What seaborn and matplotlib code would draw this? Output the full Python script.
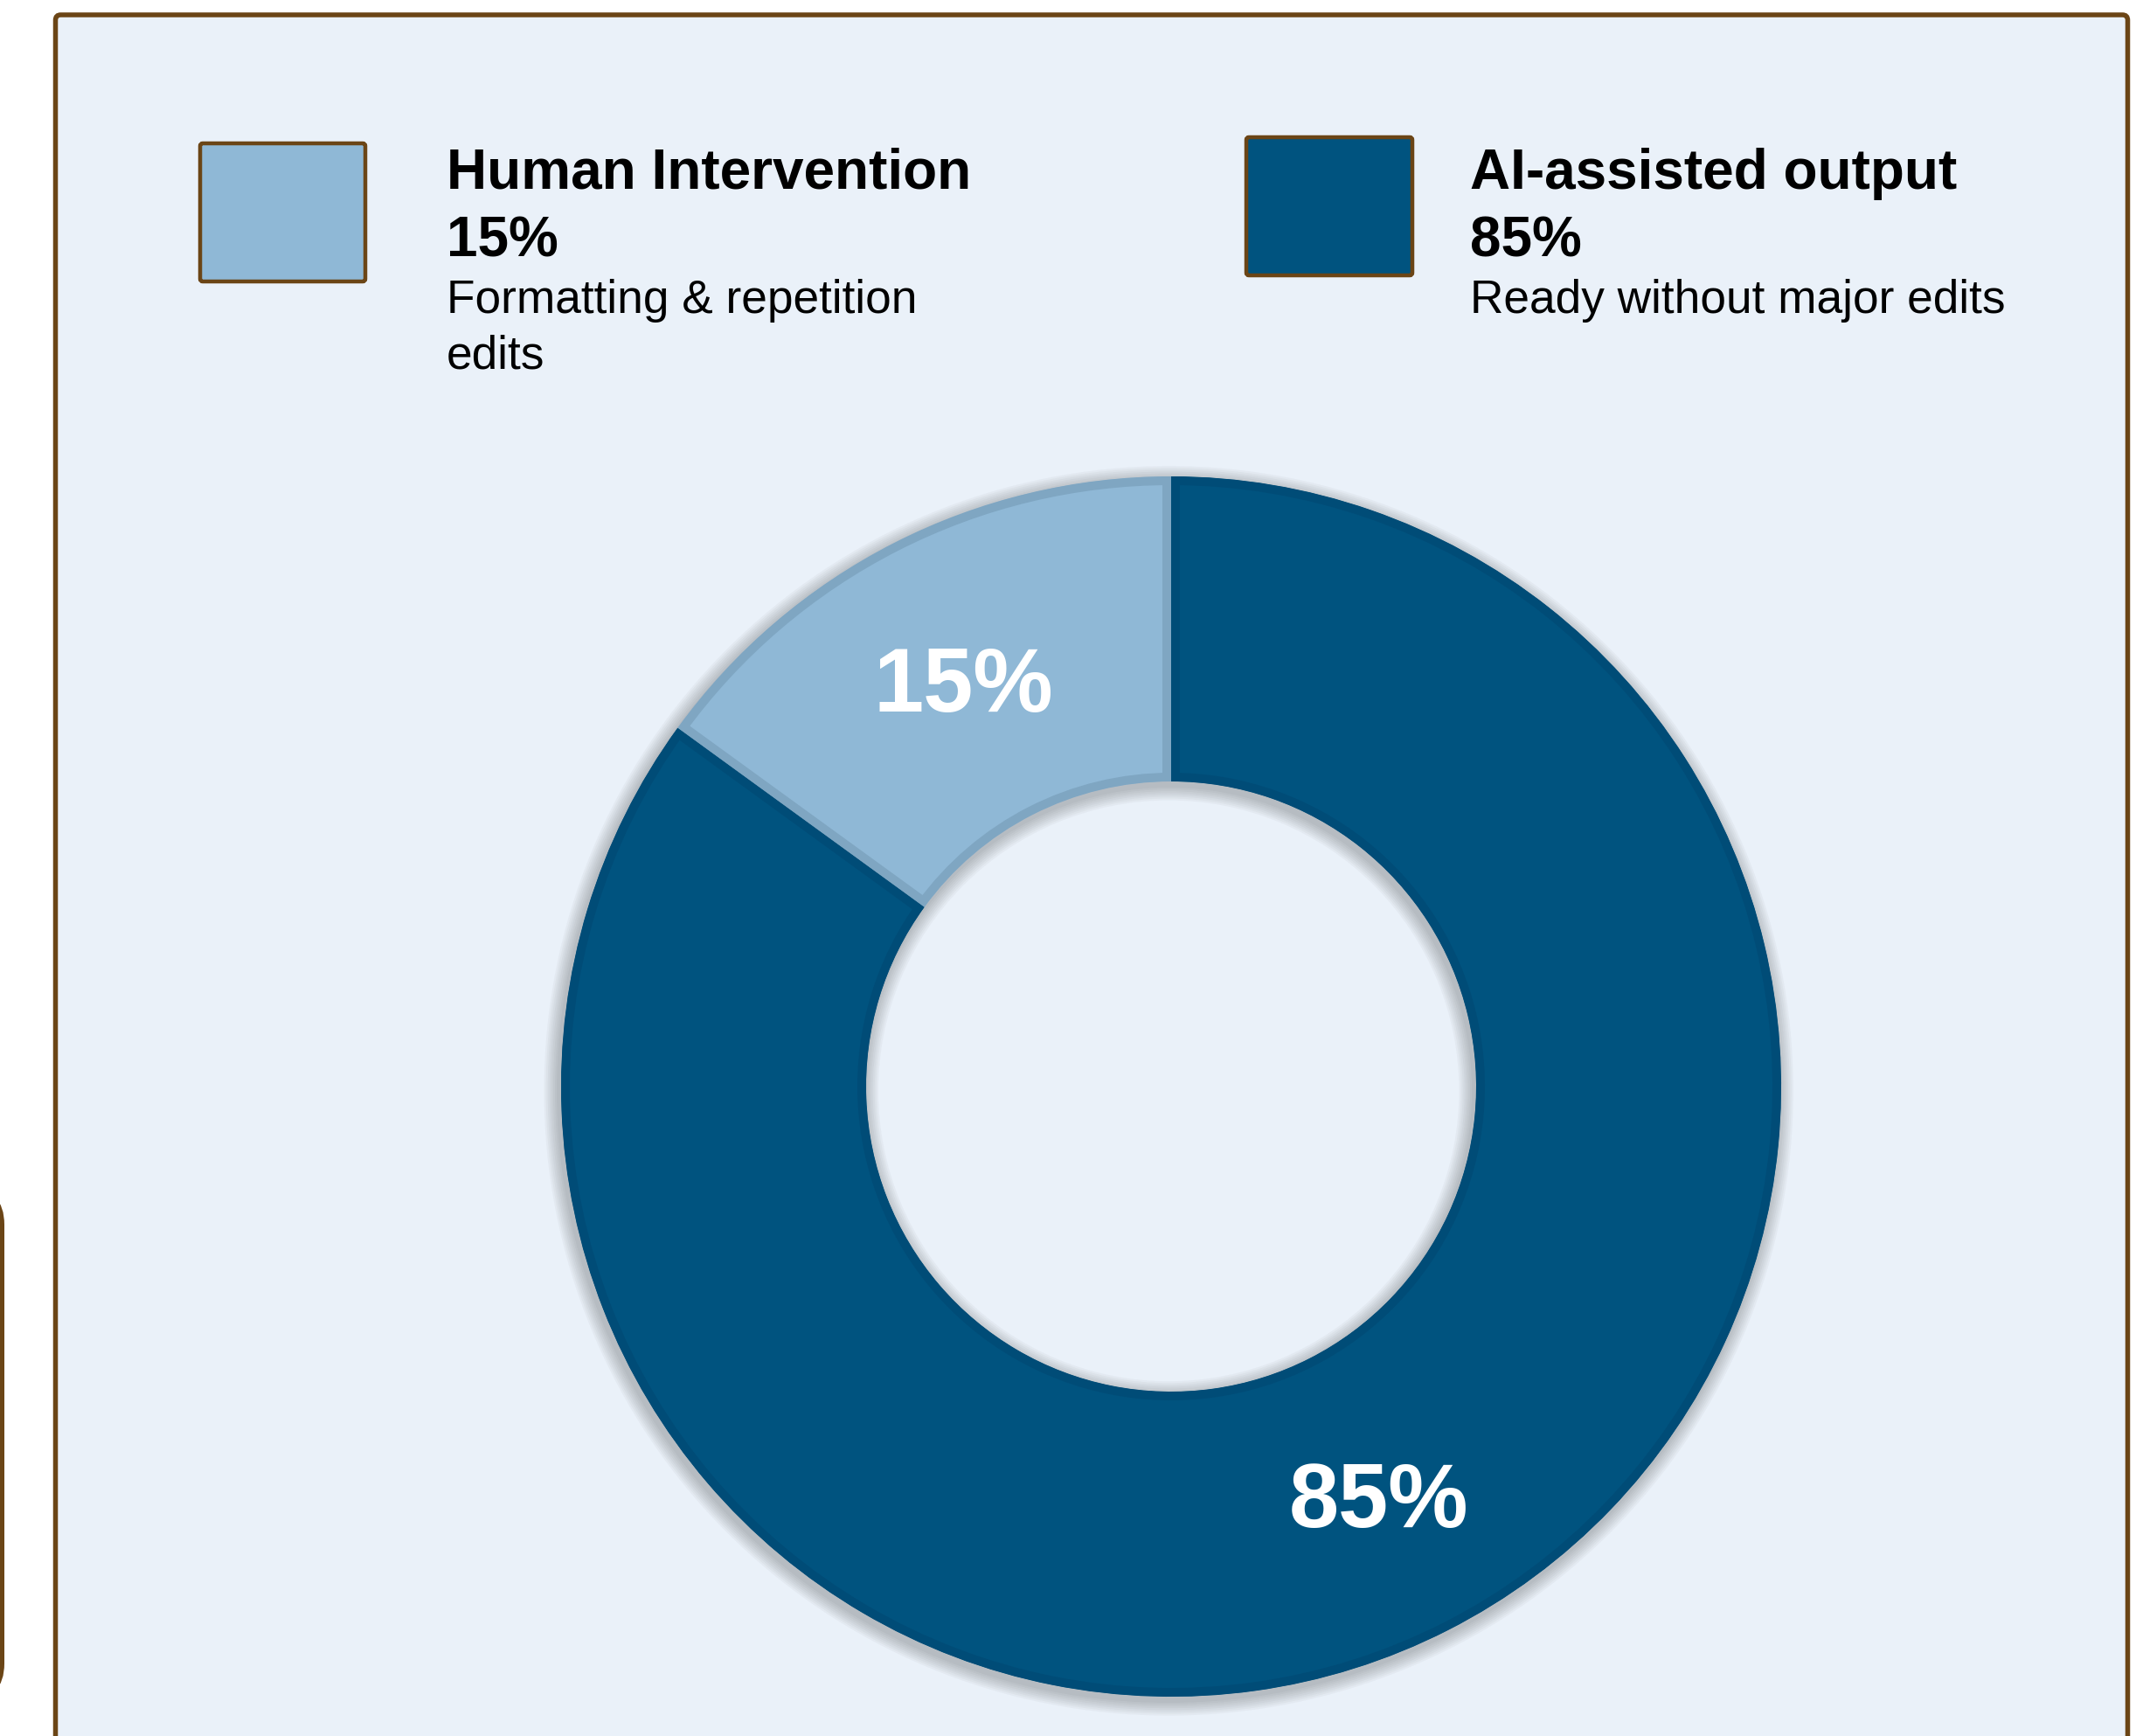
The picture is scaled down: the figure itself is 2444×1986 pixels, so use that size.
import matplotlib
matplotlib.use("Agg")
import matplotlib.pyplot as plt
from matplotlib.patches import FancyBboxPatch
import seaborn as sns

# ---- data ----
categories = ["Human Intervention", "AI-assisted output"]
shares = [15, 85]
descriptions = ["Formatting & repetition\nedits", "Ready without major edits"]

# ---- style ----
sns.set_theme(style="white")
plt.rcParams['font.family'] = ['Liberation Sans', 'DejaVu Sans']

fill_colors = ["#8FB8D6", "#00537F"]
edge_colors = ["#7FA6C2", "#004C77"]
brown = "#6B4516"
panel_color = "#EAF1F9"

W, H = 2444, 1986
DPI = 100
PX = 72.0 / DPI  # points per pixel

fig = plt.figure(figsize=(W / DPI, H / DPI), dpi=DPI)
fig.patch.set_facecolor("white")

# background overlay axes in pixel coordinates (y downwards)
bg = fig.add_axes([0, 0, 1, 1])
bg.set_xlim(0, W)
bg.set_ylim(H, 0)
bg.axis("off")

panel = FancyBboxPatch((63.5, 17), 2434.5 - 63.5, 2300,
                       boxstyle="round,pad=0,rounding_size=6",
                       lw=5.5 * PX, ec=brown, fc=panel_color)
bg.add_patch(panel)

bracket = FancyBboxPatch((-400, 1361), 402.5, 582,
                         boxstyle="round,pad=0,rounding_size=40",
                         lw=5 * PX, ec=brown, fc="none")
bg.add_patch(bracket)

# legend blocks
rect_boxes = [(229, 164, 189, 158), (1426, 157, 190, 158)]
text_x = [511, 1682]
for cat, share, desc, col, box, tx in zip(categories, shares, descriptions,
                                          fill_colors, rect_boxes, text_x):
    x0, y0, w, h = box
    bg.add_patch(FancyBboxPatch((x0, y0), w, h,
                                boxstyle="round,pad=0,rounding_size=3",
                                lw=4.5 * PX, ec=brown, fc=col))
    bg.text(tx, 216, cat, fontsize=46, fontweight="bold", color="black",
            va="baseline", ha="left")
    bg.text(tx, 293, f"{share}%", fontsize=46, fontweight="bold",
            color="black", va="baseline", ha="left")
    for j, line in enumerate(desc.split("\n")):
        bg.text(tx, 358 + 64 * j, line, fontsize=38.3, color="black",
                va="baseline", ha="left")

# donut axes
cx, cy, R = 1340, 1243, 698
L = 1.08
side = 2 * R * L
ax = fig.add_axes([(cx - side / 2) / W, (H - cy - side / 2) / H,
                   side / W, side / H])
ax.set_facecolor("none")

# soft shadow under the ring
total = sum(shares)
for k in range(1, 9):
    ax.pie([total], radius=1 + 0.003 * k, colors=["#2a2a2a"],
           center=(-0.004, -0.007),
           wedgeprops=dict(width=0.5 + 0.006 * k, alpha=0.035, linewidth=0))

wedges, texts, autotexts = ax.pie(
    shares, colors=fill_colors, startangle=90, counterclock=True, radius=1,
    autopct=lambda p: f"{p:.0f}%", pctdistance=0.75,
    wedgeprops=dict(width=0.5, linewidth=20 * PX),
    textprops=dict(color="white", fontsize=74, fontweight="bold"))
for wdg, ec in zip(wedges, edge_colors):
    wdg.set_edgecolor(ec)
    wdg.set_clip_on(True)
    wdg.set_clip_path(wdg)
for t in autotexts:
    t.set_va("center_baseline")

ax.set_xlim(-L, L)
ax.set_ylim(-L, L)
ax.set_aspect("equal")
ax.axis("off")

fig.savefig("out.png", dpi=DPI)
